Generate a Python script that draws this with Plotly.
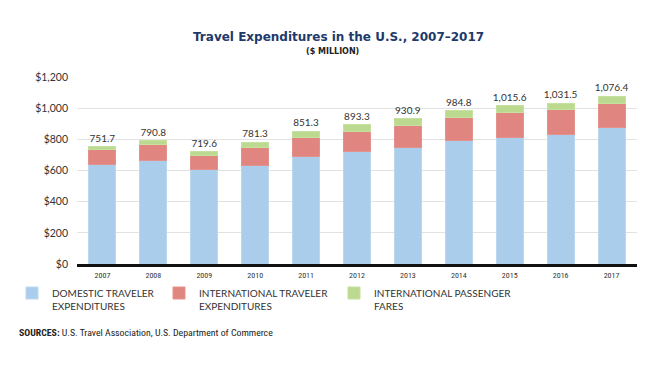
import plotly.graph_objects as go

years = ["2007", "2008", "2009", "2010", "2011", "2012", "2013", "2014", "2015", "2016", "2017"]
domestic = [641, 665, 608, 635, 689, 725, 747, 790, 811, 834, 877]
international = [95, 105, 90, 113, 126, 127, 141, 151, 160, 156, 156]
fares = [15.7, 20.8, 21.6, 33.3, 36.3, 41.3, 42.9, 43.8, 44.6, 41.5, 43.4]
total_labels = ["751.7", "790.8", "719.6", "781.3", "851.3", "893.3", "930.9", "984.8", "1,015.6", "1,031.5", "1,076.4"]

FONT = "Lato"
WIDE = "DejaVu Sans"
COND = "Roboto Condensed, DejaVu Sans Condensed, Liberation Sans Narrow, Liberation Sans"
TXT = "#333333"

# the page body has an 8px margin; figure is sized to fill the rest
OFF = 8
W, H = 660 - OFF, 375 - OFF
# plot area in page pixels
L, R, T, B = 77, 637, 77, 264
PW, PH = R - L, B - T


def px(x):
    return (x - L) / PW


def py(y):
    return (B - y) / PH


fig = go.Figure()
fig.add_trace(go.Bar(x=years, y=domestic, name="DOMESTIC TRAVELER<br>EXPENDITURES",
                     marker=dict(color="#a9cdeb", line=dict(color="#bcd8f0", width=1)),
                     legend="legend"))
fig.add_trace(go.Bar(x=years, y=international, name="INTERNATIONAL TRAVELER<br>EXPENDITURES",
                     marker=dict(color="#e08580", line=dict(color="#e4928d", width=1)),
                     legend="legend2"))
fig.add_trace(go.Bar(x=years, y=fares, name="INTERNATIONAL PASSENGER<br>FARES",
                     marker=dict(color="#bcd990", line=dict(color="#c6e0a0", width=1)),
                     legend="legend3",
                     text=total_labels, textposition="outside", cliponaxis=False,
                     constraintext="none",
                     textfont=dict(family=FONT, size=10, color=TXT)))

legend_common = dict(orientation="h", yanchor="top", xanchor="left",
                     font=dict(family=FONT, size=10, color=TXT), bgcolor="rgba(0,0,0,0)",
                     itemwidth=30, tracegroupgap=0, valign="top", borderwidth=0)
LEG_Y = py(280)
fig.update_layout(
    width=W, height=H,
    margin=dict(l=L - OFF, r=660 - R, t=T - OFF, b=375 - B, autoexpand=False),
    paper_bgcolor="white", plot_bgcolor="white",
    barmode="stack", bargap=0.47,
    showlegend=True,
    legend=dict(**legend_common, x=px(12), y=LEG_Y),
    legend2=dict(**legend_common, x=px(159), y=LEG_Y),
    legend3=dict(**legend_common, x=px(334), y=LEG_Y),
    font=dict(family=FONT, color=TXT),
    xaxis=dict(showline=True, linecolor="#111111", linewidth=2.5, ticks="",
               tickfont=dict(family=COND, size=8, color=TXT),
               ticklabelstandoff=2, fixedrange=True),
    yaxis=dict(range=[0, 1200], dtick=200, tickprefix="$", tickformat=",",
               showgrid=True, gridcolor="#e2e2e2", gridwidth=1, zeroline=False,
               tickfont=dict(family=FONT, size=10.5, color=TXT), ticklabelstandoff=8,
               fixedrange=True),
    annotations=[
        dict(text="<b>Travel Expenditures in the U.S., 2007\u20132017</b>", xref="paper", yref="paper",
             x=px(338), y=py(37), xanchor="center", yanchor="middle",
             showarrow=False, font=dict(family=WIDE, size=12, color="#1d3a6b")),
        dict(text="<b>($ MILLION)</b>", xref="paper", yref="paper",
             x=px(332), y=py(52), xanchor="center", yanchor="middle",
             showarrow=False, font=dict(family=WIDE, size=8, color="#222222")),
        dict(text="<b>SOURCES:</b> U.S. Travel Association, U.S. Department of Commerce",
             xref="paper", yref="paper", x=px(17), y=py(332),
             xanchor="left", yanchor="middle", showarrow=False,
             font=dict(family=COND, size=9.8, color="#222222")),
    ],
)

fig.write_html("out.html")
